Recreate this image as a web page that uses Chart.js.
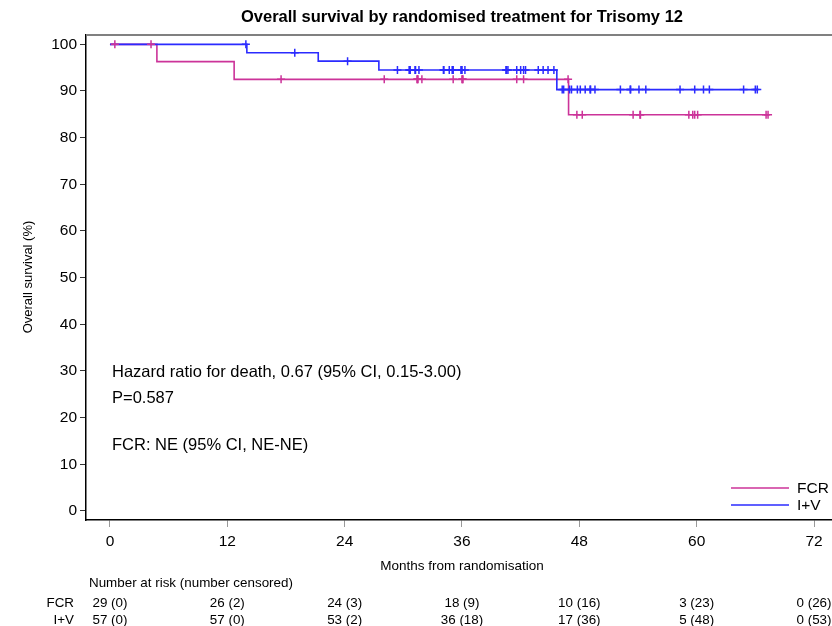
<!DOCTYPE html>
<html><head><meta charset="utf-8">
<script src="https://cdn.jsdelivr.net/npm/chart.js@4/dist/chart.umd.min.js"></script>
<style>html,body{margin:0;padding:0;background:#fff}canvas{display:block}</style>
</head><body>
<canvas id="c" width="832" height="626"></canvas>
<script>
// ---- data ----
const chartTitle = 'Overall survival by randomised treatment for Trisomy 12';
const xTitle = 'Months from randomisation';
const yTitle = 'Overall survival (%)';
const xTicks = [0, 12, 24, 36, 48, 60, 72];
const yTicks = [0, 10, 20, 30, 40, 50, 60, 70, 80, 90, 100];
const groupNames = ['FCR', 'I+V'];

const fcrEventTimes = [0, 4.8, 12.7, 46.9];
const fcrSurvival = [100, 96.3, 92.5, 84.9];
const fcrCensorTimes = [0.5, 4.2, 17.5, 28.05, 31.4, 31.45, 31.5, 31.9, 35.1, 36.0, 36.05, 36.1,
  41.6, 42.3, 46.85, 47.75, 48.3, 53.5, 54.2, 54.25, 59.2, 59.6, 59.8, 60.1, 67.1, 67.3];

const ivEventTimes = [0, 14.0, 21.3, 27.5, 45.7];
const ivSurvival = [100, 98.2, 96.4, 94.5, 90.3];
const ivCensorTimes = [13.9, 18.9, 24.3, 29.4, 30.6, 30.65, 30.7, 31.2, 31.25, 31.6, 34.1, 34.15,
  34.7, 35.0, 35.05, 35.1, 35.9, 35.95, 36.0, 36.3, 40.5, 40.55, 40.7, 41.6, 42.0, 42.3, 42.5, 43.8,
  44.3, 44.8, 45.4, 46.25, 46.4, 47.0, 47.2, 47.8, 48.1, 48.6, 49.1, 49.15, 49.6, 52.2, 53.2, 53.25,
  54.1, 54.8, 58.3, 59.8, 60.7, 61.3, 64.8, 66.0, 66.2];

const riskHeader = 'Number at risk (number censored)';
const fcrAtRisk = [29, 26, 24, 18, 10, 3, 0];
const fcrCensored = [0, 2, 3, 9, 16, 23, 26];
const ivAtRisk = [57, 57, 53, 36, 17, 5, 0];
const ivCensored = [0, 0, 2, 18, 36, 48, 53];

const annotationLines = ['Hazard ratio for death, 0.67 (95% CI, 0.15-3.00)', 'P=0.587', 'FCR: NE (95% CI, NE-NE)'];

// ---- helpers ----
const FCR_COLOR = '#cc3399';
const IV_COLOR = '#2b2bff';
function survAt(times, surv, t) {
  let s = surv[0];
  for (let i = 0; i < times.length; i++) if (times[i] <= t) s = surv[i];
  return s;
}
function stepPoints(times, surv, censors) {
  const pts = times.map((t, i) => ({x: t, y: surv[i]}));
  const last = Math.max(...censors, ...times);
  pts.push({x: last, y: survAt(times, surv, last)});
  return pts;
}
function censorPoints(times, surv, censors) {
  return censors.map(t => ({x: t, y: survAt(times, surv, t)}));
}

const FONT = '"Liberation Sans", Arial, sans-serif';

const overlay = {
  id: 'overlay',
  afterDraw(chart) {
    const ctx = chart.ctx, a = chart.chartArea;
    const xs = chart.scales.x;
    ctx.save();
    // top frame line
    ctx.strokeStyle = '#808080'; ctx.lineWidth = 2;
    ctx.beginPath(); ctx.moveTo(a.left, a.top); ctx.lineTo(a.right, a.top); ctx.stroke();
    ctx.fillStyle = '#000';
    const cx = (xs.getPixelForValue(xTicks[0]) + xs.getPixelForValue(xTicks[xTicks.length - 1])) / 2;
    // title
    ctx.font = 'bold 16.5px ' + FONT; ctx.textAlign = 'center'; ctx.textBaseline = 'middle';
    ctx.fillText(chartTitle, cx, 17);
    // x title
    ctx.font = '13.5px ' + FONT;
    ctx.fillText(xTitle, cx, 566);
    // y title
    ctx.save(); ctx.translate(28, 277); ctx.rotate(-Math.PI / 2);
    ctx.font = '13px ' + FONT; ctx.fillText(yTitle, 0, 0); ctx.restore();
    // annotations
    ctx.font = '16.5px ' + FONT; ctx.textAlign = 'left'; ctx.textBaseline = 'alphabetic';
    const baseY = [377, 402.5, 450];
    annotationLines.forEach((t, i) => ctx.fillText(t, 112, baseY[i]));
    // legend
    const legColors = [FCR_COLOR, IV_COLOR];
    const legY = [488, 505];
    ctx.font = '15.5px ' + FONT; ctx.textBaseline = 'middle';
    groupNames.forEach((g, i) => {
      ctx.strokeStyle = legColors[i]; ctx.lineWidth = 1.5;
      ctx.beginPath(); ctx.moveTo(731, legY[i]); ctx.lineTo(789, legY[i]); ctx.stroke();
      ctx.fillText(g, 797, legY[i] + 0.5);
    });
    // risk table
    ctx.font = '13.4px ' + FONT; ctx.textBaseline = 'middle';
    ctx.textAlign = 'left';
    ctx.fillText(riskHeader, 89, 583);
    const rows = [[fcrAtRisk, fcrCensored], [ivAtRisk, ivCensored]];
    const rowY = [603, 620];
    rows.forEach((r, ri) => {
      ctx.textAlign = 'right';
      ctx.fillText(groupNames[ri], 74, rowY[ri]);
      ctx.textAlign = 'center';
      xTicks.forEach((t, i) => {
        ctx.fillText(r[0][i] + ' (' + r[1][i] + ')', xs.getPixelForValue(t), rowY[ri]);
      });
    });
    ctx.restore();
  }
};

new Chart(document.getElementById('c'), {
  type: 'scatter',
  data: {
    datasets: [
      {label: 'FCR censored', data: censorPoints(fcrEventTimes, fcrSurvival, fcrCensorTimes),
        pointStyle: 'cross', pointRadius: 4, pointBorderWidth: 1.5, borderColor: FCR_COLOR, backgroundColor: FCR_COLOR, showLine: false, order: 0},
      {label: 'I+V censored', data: censorPoints(ivEventTimes, ivSurvival, ivCensorTimes),
        pointStyle: 'cross', pointRadius: 4, pointBorderWidth: 1.5, borderColor: IV_COLOR, backgroundColor: IV_COLOR, showLine: false, order: 1},
      {label: 'I+V', data: stepPoints(ivEventTimes, ivSurvival, ivCensorTimes), showLine: true, stepped: true,
        borderColor: IV_COLOR, borderWidth: 1.6, pointRadius: 0, order: 2},
      {label: 'FCR', data: stepPoints(fcrEventTimes, fcrSurvival, fcrCensorTimes), showLine: true, stepped: true,
        borderColor: FCR_COLOR, borderWidth: 1.6, pointRadius: 0, order: 3}
    ]
  },
  options: {
    responsive: false, animation: false, devicePixelRatio: 1,
    layout: {autoPadding: false, padding: {top: 35, left: 0, right: 0, bottom: 0}},
    plugins: {legend: {display: false}, tooltip: {enabled: false}, title: {display: false}},
    scales: {
      x: {type: 'linear', min: -2.45, max: 73.84,
        afterBuildTicks: s => { s.ticks = xTicks.map(v => ({value: v})); },
        afterFit: s => { s.height = 106; s.paddingLeft = 0; s.paddingRight = 0; },
        grid: {drawOnChartArea: false, drawTicks: true, tickLength: 7, color: '#999'},
        border: {display: true, color: '#000', width: 1.5},
        ticks: {color: '#000', font: {family: FONT, size: 15.5}, padding: 5, maxRotation: 0, autoSkip: false}
      },
      y: {type: 'linear', min: -1.93, max: 102,
        afterBuildTicks: s => { s.ticks = yTicks.map(v => ({value: v})); },
        afterFit: s => { s.width = 86; s.paddingTop = 0; s.paddingBottom = 0; },
        grid: {drawOnChartArea: false, drawTicks: true, tickLength: 6, color: '#333'},
        border: {display: true, color: '#000', width: 1.5},
        ticks: {color: '#000', font: {family: FONT, size: 15.5}, padding: 3, autoSkip: false}
      }
    }
  },
  plugins: [overlay]
});
</script>
</body></html>
